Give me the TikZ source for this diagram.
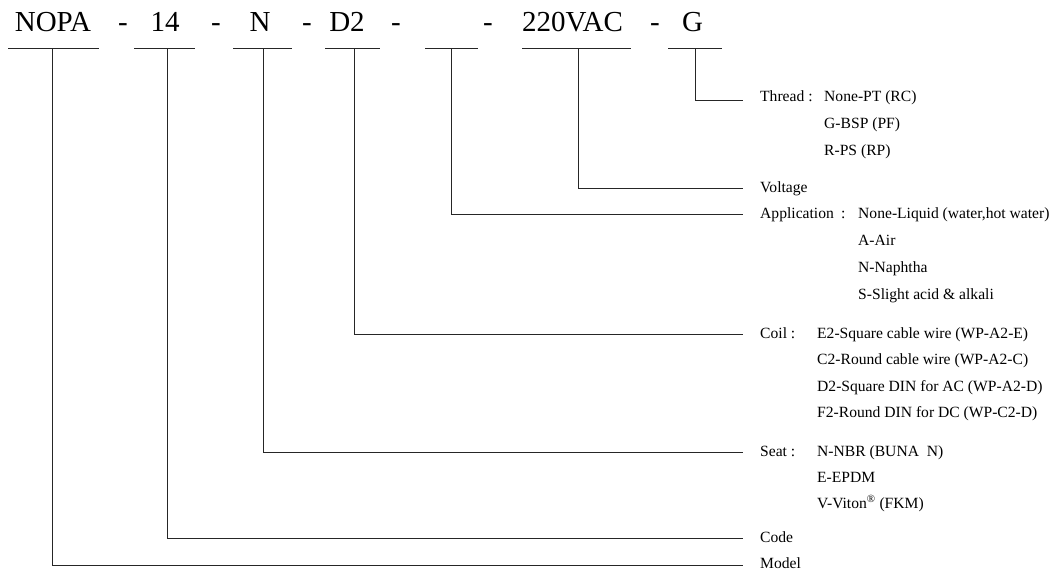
\documentclass[tikz,border=0pt]{standalone}
\usepackage{fontspec}
\setmainfont{Liberation Serif}
\begin{document}
\begin{tikzpicture}[x=1pt,y=-1pt,
  hdr/.style={anchor=base,inner sep=0pt,font=\fontsize{29}{29}\selectfont},
  lbl/.style={anchor=base west,inner sep=0pt,font=\fontsize{15.6}{15.6}\selectfont},
  ln/.style={draw=black!85,line width=1pt},
  ]
\useasboundingbox (0,0) rectangle (1056,571);
% header tokens
\node[hdr] (tNOPA) at (53,31.5) {NOPA};
\node[hdr] (d1) at (123,31.5) {-};
\node[hdr] (t14) at (165,31.5) {14};
\node[hdr] (d2) at (216,31.5) {-};
\node[hdr] (tN) at (260,31.5) {N};
\node[hdr] (d3) at (307,31.5) {-};
\node[hdr] (tD2) at (347,31.5) {D2};
\node[hdr] (d4) at (396,31.5) {-};
\node[hdr] (d5) at (488,31.5) {-};
\node[hdr] (tV) at (572.5,31.5) {220VAC};
\node[hdr] (d6) at (655,31.5) {-};
\node[hdr] (tG) at (692.5,31.5) {G};
% underlines
\draw[ln] (8,48.5) -- (99,48.5);
\draw[ln] (134,48.5) -- (195,48.5);
\draw[ln] (233,48.5) -- (292,48.5);
\draw[ln] (325,48.5) -- (380,48.5);
\draw[ln] (425,48.5) -- (478,48.5);
\draw[ln] (522,48.5) -- (631,48.5);
\draw[ln] (668,48.5) -- (722,48.5);
% connector anchors
\coordinate (sG) at (695,48.5);   \coordinate (eG) at (743,100);
\coordinate (sV) at (578,48.5);   \coordinate (eV) at (743,188);
\coordinate (sA) at (451,48.5);   \coordinate (eA) at (743,214);
\coordinate (sC) at (354,48.5);   \coordinate (eC) at (743,334);
\coordinate (sS) at (263,48.5);   \coordinate (eS) at (743,452);
\coordinate (sK) at (167,48.5);   \coordinate (eK) at (743,538);
\coordinate (sM) at (52,48.5);    \coordinate (eM) at (743,565);
\draw[ln] (sG) |- (eG);
\draw[ln] (sV) |- (eV);
\draw[ln] (sA) |- (eA);
\draw[ln] (sC) |- (eC);
\draw[ln] (sS) |- (eS);
\draw[ln] (sK) |- (eK);
\draw[ln] (sM) |- (eM);
% Thread
\node[lbl] (lThread) at (760,101) {Thread :};
\node[lbl] (th1) at (824,101) {None-PT (RC)};
\node[lbl] (th2) at (824,128) {G-BSP (PF)};
\node[lbl] (th3) at (824,155) {R-PS (RP)};
% Voltage
\node[lbl] (lVolt) at (760,192) {Voltage};
% Application
\node[lbl] (lApp) at (760,218) {Application};
\node[lbl] (lAppc) at (841,218) {:};
\node[lbl] (ap1) at (858,218) {None-Liquid (water,hot water)};
\node[lbl] (ap2) at (858,245) {A-Air};
\node[lbl] (ap3) at (858,272) {N-Naphtha};
\node[lbl] (ap4) at (858,299) {S-Slight acid \& alkali};
% Coil
\node[lbl] (lCoil) at (760,338.5) {Coil :};
\node[lbl] (co1) at (817,338.5) {E2-Square cable wire (WP-A2-E)};
\node[lbl] (co2) at (817,364.5) {C2-Round cable wire (WP-A2-C)};
\node[lbl] (co3) at (817,391) {D2-Square DIN for AC (WP-A2-D)};
\node[lbl] (co4) at (817,417.5) {F2-Round DIN for DC (WP-C2-D)};
% Seat
\node[lbl] (lSeat) at (760,456) {Seat :};
\node[lbl] (se1) at (817,456) {N-NBR (BUNA\ \ N)};
\node[lbl] (se2) at (817,482) {E-EPDM};
\node[lbl] (se3) at (817,508) {V-Viton\textsuperscript{\textregistered} (FKM)};
% Code / Model
\node[lbl] (lCode) at (760,542) {Code};
\node[lbl] (lModel) at (760,568.5) {Model};
\end{tikzpicture}
\end{document}
